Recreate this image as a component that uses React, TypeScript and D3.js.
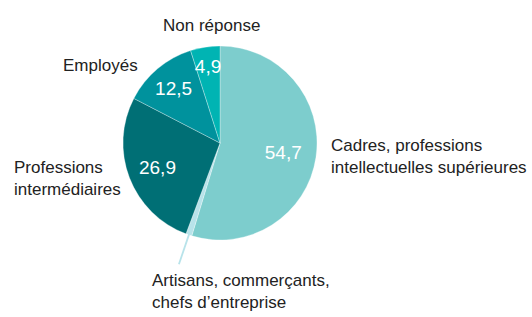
import React from "react";
import * as d3 from "d3";

// categories, clockwise from 12 o'clock
const categories = [
  "Cadres, professions intellectuelles supérieures",
  "Artisans, commerçants, chefs d’entreprise",
  "Professions intermédiaires",
  "Employés",
  "Non réponse",
];
const values = [54.7, 1.0, 26.9, 12.5, 4.9];
const valueLabels = ["54,7", "", "26,9", "12,5", "4,9"];
const nameLines = [
  ["Cadres, professions", "intellectuelles supérieures"],
  ["Artisans, commerçants,", "chefs d’entreprise"],
  ["Professions", "intermédiaires"],
  ["Employés"],
  ["Non réponse"],
];
const colors = ["#7dcdcd", "#b8e3ea", "#006f75", "#00929d", "#00b4b3"];

const W = 532;
const H = 317;
const cx = 220;
const cy = 143;
const R = 97;

// how far from the centre each value sits, per slice
const valueRadius = [64, 0, 67, 72, 78];
// where each name block starts (x, first baseline)
const nameBoxes: [number, number][] = [
  [331, 151],
  [152, 286],
  [14, 173],
  [63, 71],
  [163, 31],
];

export default function App() {
  const pie = d3.pie<number>().sort(null).value((d) => d);
  const arcs = pie(values);
  const arc = d3.arc<d3.PieArcDatum<number>>().innerRadius(0).outerRadius(R);
  const font = "'Liberation Sans', Arial, sans-serif";

  // leader line for the thin slice
  const thin = arcs[1];
  const mid = (thin.startAngle + thin.endAngle) / 2;
  const p = (r: number) => [Math.sin(mid) * r, -Math.cos(mid) * r];
  const [x1, y1] = p(R * 0.6);
  const [x2, y2] = p(R + 31);

  return (
    <svg width={W} height={H} style={{ position: "absolute", left: 0, top: 0 }}>
      <rect width={W} height={H} fill="#fff" />
      <g transform={`translate(${cx},${cy})`}>
        {arcs.map((a, i) => (
          <path key={i} d={arc(a) || ""} fill={colors[i]} stroke="#ffffff" strokeOpacity={0.5} strokeWidth={0.6} />
        ))}
        <line x1={x1} y1={y1} x2={x2} y2={y2} stroke={colors[1]} strokeWidth={1.8} />
        {arcs.map((a, i) => {
          if (!valueLabels[i]) return null;
          const m = (a.startAngle + a.endAngle) / 2;
          const r = valueRadius[i];
          return (
            <text
              key={i}
              x={Math.sin(m) * r}
              y={-Math.cos(m) * r}
              dy="0.36em"
              textAnchor="middle"
              fill="#fff"
              fontFamily={font}
              fontSize={19}
            >
              {valueLabels[i]}
            </text>
          );
        })}
      </g>
      {nameLines.map((lines, i) => (
        <text key={i} fill="#222" fontFamily={font} fontSize={17}>
          {lines.map((l, j) => (
            <tspan key={j} x={nameBoxes[i][0]} y={nameBoxes[i][1] + j * 22}>
              {l}
            </tspan>
          ))}
        </text>
      ))}
    </svg>
  );
}
